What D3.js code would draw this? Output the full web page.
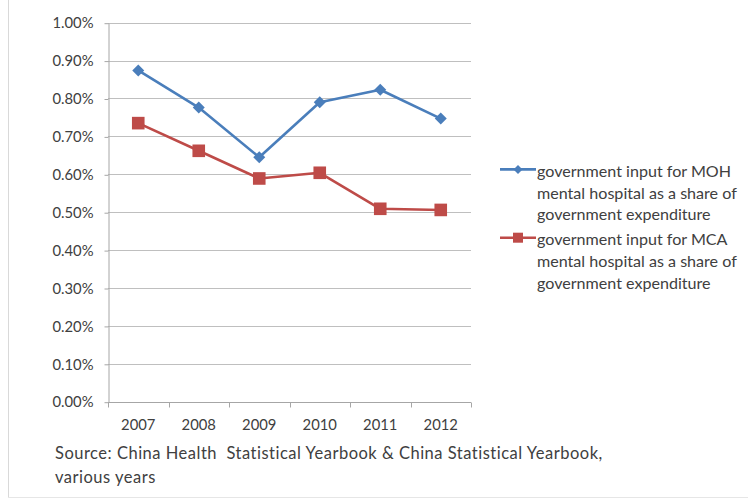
<!DOCTYPE html>
<html>
<head>
<meta charset="utf-8">
<script src="https://cdn.jsdelivr.net/npm/d3@7"></script>
<style>
  html, body { margin: 0; padding: 0; background: #fff; }
  svg { display: block; }
  text { font-family: Lato, "Open Sans", sans-serif; fill: #404040; }
</style>
</head>
<body>
<svg id="chart" width="748" height="502"></svg>
<script>
// Years on the category axis
const years = ["2007", "2008", "2009", "2010", "2011", "2012"];
// Government input as a share of government expenditure (%)
const mohShare = [0.874, 0.776, 0.645, 0.790, 0.823, 0.747];
const mcaShare = [0.735, 0.662, 0.589, 0.604, 0.509, 0.506];
// Value axis ticks (%)
const yTicks = [0, 0.1, 0.2, 0.3, 0.4, 0.5, 0.6, 0.7, 0.8, 0.9, 1.0];
const seriesNames = [
  ["government input for MOH", "mental hospital as a share of", "government expenditure"],
  ["government input for MCA", "mental hospital as a share of", "government expenditure"]
];
const sourceLines = [
  "Source: China Health  Statistical Yearbook & China Statistical Yearbook,",
  "various years"
];

const colors = ["#4A7EBB", "#BE4B48"];

const svg = d3.select("#chart");

// frame edges
svg.append("line").attr("x1", 8.5).attr("x2", 8.5).attr("y1", 0).attr("y2", 498)
  .attr("stroke", "#d9d9d9");
svg.append("line").attr("x1", 8).attr("x2", 748).attr("y1", 497.5).attr("y2", 497.5)
  .attr("stroke", "#e6e6e6");

const plot = { left: 108, right: 471, top: 22.7, bottom: 401.7 };

const x = d3.scaleBand().domain(years).range([plot.left, plot.right]);
const y = d3.scaleLinear().domain([0, 1.0]).range([plot.bottom, plot.top]);

// horizontal gridlines
svg.append("g").selectAll("line").data(yTicks.filter(d => d > 0)).join("line")
  .attr("x1", plot.left).attr("x2", plot.right)
  .attr("y1", d => Math.round(y(d)) + 0.5).attr("y2", d => Math.round(y(d)) + 0.5)
  .attr("stroke", "#bfbfbf").attr("stroke-width", 1);

// value axis
const yAxis = d3.axisLeft(y).tickValues(yTicks).tickFormat(d => d.toFixed(2) + "%")
  .tickSizeInner(4).tickSizeOuter(0).tickPadding(11);
const gy = svg.append("g").attr("transform", `translate(${plot.left + 0.5},0.5)`).call(yAxis);
gy.select(".domain").attr("stroke", "#a6a6a6");
gy.selectAll(".tick line").attr("stroke", "#a6a6a6");
gy.selectAll(".tick text").attr("font-size", 14.8).attr("fill", "#404040")
  .attr("font-family", "Lato, sans-serif");

// category axis with ticks on band boundaries
const gx = svg.append("g").attr("transform", `translate(0,${Math.round(plot.bottom) + 0.5})`);
gx.append("line").attr("x1", plot.left).attr("x2", plot.right).attr("stroke", "#a6a6a6");
const bounds = years.map(d => x(d)).concat([plot.right]);
gx.selectAll("line.tk").data(bounds).join("line").attr("class", "tk")
  .attr("x1", d => Math.round(d) + 0.5).attr("x2", d => Math.round(d) + 0.5)
  .attr("y1", 0).attr("y2", 5).attr("stroke", "#a6a6a6");
gx.selectAll("text").data(years).join("text")
  .attr("x", d => x(d) + x.bandwidth() / 2).attr("y", 22.5)
  .attr("dy", "0.35em").attr("text-anchor", "middle")
  .attr("font-size", 14.8).text(d => d);

const cx = d => x(d) + x.bandwidth() / 2;
const line = d3.line().x((d, i) => cx(years[i])).y(d => y(d));

[mohShare, mcaShare].forEach((vals, k) => {
  svg.append("path").datum(vals).attr("d", line)
    .attr("fill", "none").attr("stroke", colors[k]).attr("stroke-width", 2.6)
    .attr("stroke-linejoin", "round");
});

// diamond markers
svg.append("g").selectAll("path").data(mohShare).join("path")
  .attr("transform", (d, i) => `translate(${cx(years[i])},${y(d)})`)
  .attr("d", "M0,-6L6,0L0,6L-6,0Z").attr("fill", colors[0]);

// square markers
svg.append("g").selectAll("rect").data(mcaShare).join("rect")
  .attr("x", (d, i) => cx(years[i]) - 6.3).attr("y", d => y(d) - 6.3)
  .attr("width", 12.6).attr("height", 12.6).attr("fill", colors[1]);

// legend
const legendTop = [171.7, 240];
seriesNames.forEach((lines, k) => {
  const g = svg.append("g");
  const ly = legendTop[k] - 2.3;
  g.append("line").attr("x1", 500).attr("x2", 536).attr("y1", ly).attr("y2", ly)
    .attr("stroke", colors[k]).attr("stroke-width", 2.6);
  if (k === 0) {
    g.append("path").attr("transform", `translate(518,${ly})`)
      .attr("d", "M0,-4.5L4.5,0L0,4.5L-4.5,0Z").attr("fill", colors[k]);
  } else {
    g.append("rect").attr("x", 513).attr("y", ly - 5).attr("width", 10).attr("height", 10)
      .attr("fill", colors[k]);
  }
  g.selectAll("text").data(lines).join("text")
    .attr("x", 537).attr("y", (d, i) => legendTop[k] + i * 21.7)
    .attr("dy", "0.32em").attr("font-size", 16.1).text(d => d);
});

// source note
svg.append("g").selectAll("text").data(sourceLines).join("text")
  .attr("x", 55).attr("y", (d, i) => 454 + i * 23.5)
  .attr("dy", "0.32em").attr("font-size", 16.5).attr("letter-spacing", 0.5)
  .attr("fill", "#262626")
  .attr("xml:space", "preserve").style("white-space", "pre").text(d => d);
</script>
</body>
</html>
